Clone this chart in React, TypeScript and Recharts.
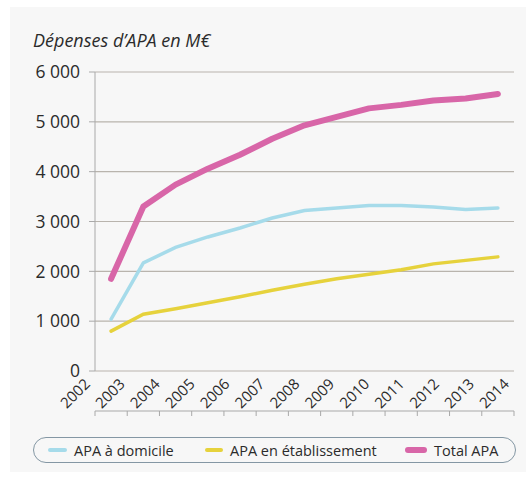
import React from 'react';
import { LineChart, Line, XAxis, YAxis, CartesianGrid } from 'recharts';

const years = ['2002', '2003', '2004', '2005', '2006', '2007', '2008', '2009', '2010', '2011', '2012', '2013', '2014'];
const domicile = [1040, 2170, 2480, 2690, 2870, 3070, 3220, 3270, 3320, 3320, 3290, 3240, 3270];
const etablissement = [800, 1140, 1250, 1370, 1490, 1620, 1740, 1850, 1940, 2030, 2150, 2220, 2290];
const total = [1850, 3300, 3740, 4060, 4340, 4660, 4930, 5100, 5270, 5340, 5430, 5470, 5560];
const yTicks = [0, 1000, 2000, 3000, 4000, 5000, 6000];
const bandTicks = [0, 1, 2, 3, 4, 5, 6, 7, 8, 9, 10, 11, 12, 13];
const labelTicks = [0, 1, 2, 3, 4, 5, 6, 7, 8, 9, 10, 11, 12];

const FONT = '"Open Sans", "Noto Sans", sans-serif';
const TEXT = '#2b2b2b';

// points sit in the middle of each yearly band
const data = years.map((year, i) => ({
  pos: i + 0.5,
  year,
  domicile: domicile[i],
  etablissement: etablissement[i],
  total: total[i],
}));

const fmt = (v: number) => String(v).replace(/\B(?=(\d{3})+(?!\d))/g, ' ');

function YearTick(props: any) {
  const { x, y, payload } = props;
  const ax = x - 4;
  const ay = y + 14;
  return (
    <text
      x={ax}
      y={ay}
      transform={`rotate(-45, ${ax}, ${ay})`}
      textAnchor="end"
      fontSize={15}
      fontFamily={FONT}
      fill={TEXT}
    >
      {years[payload.value]}
    </text>
  );
}

const legendItems = [
  { label: 'APA à domicile', color: '#a6dbea', left: 47, w: 19, h: 4 },
  { label: 'APA en établissement', color: '#e6d23c', left: 204, w: 18, h: 4 },
  { label: 'Total APA', color: '#d866a8', left: 404, w: 22, h: 6 },
];

export default function App() {
  return (
    <div style={{ position: 'fixed', left: 0, top: 0, width: 528, height: 477, background: '#fff', overflow: 'hidden' }}>
      <div style={{ position: 'absolute', left: 10, top: 7, width: 516, height: 465, background: '#f7f7f7' }} />
      <div
        style={{
          position: 'absolute',
          left: 33,
          top: 28,
          fontFamily: FONT,
          fontStyle: 'italic',
          fontSize: 18,
          color: TEXT,
          whiteSpace: 'nowrap',
        }}
      >
        Dépenses d’APA en M€
      </div>
      <div style={{ position: 'absolute', left: 0, top: 0 }}>
        <LineChart width={528} height={477} data={data} margin={{ top: 72, right: 14, bottom: 60, left: 0 }}>
          <CartesianGrid horizontal vertical={false} stroke="#b9b4ad" strokeWidth={1.2} />
          <XAxis
            xAxisId="pos"
            dataKey="pos"
            type="number"
            domain={[0, 13]}
            ticks={bandTicks}
            interval={0}
            height={6}
            tickSize={5}
            tickFormatter={() => ''}
            stroke="#a9a9a9"
          />
          <XAxis
            xAxisId="lab"
            type="number"
            domain={[0, 12]}
            allowDataOverflow
            ticks={labelTicks}
            interval={0}
            height={40}
            axisLine={false}
            tickLine={false}
            tickSize={0}
            tickMargin={0}
            tick={<YearTick />}
          />
          <YAxis
            type="number"
            domain={[0, 6000]}
            ticks={yTicks}
            interval={0}
            width={95}
            tickSize={6}
            tickMargin={9}
            tickFormatter={fmt}
            stroke="#a9a9a9"
            tick={{ fontSize: 17.5, fontFamily: FONT, fill: TEXT }}
          />
          <Line xAxisId="pos" type="linear" dataKey="domicile" stroke="#a6dbea" strokeWidth={3.5} dot={false} isAnimationActive={false} strokeLinecap="round" />
          <Line xAxisId="pos" type="linear" dataKey="etablissement" stroke="#e6d23c" strokeWidth={3.5} dot={false} isAnimationActive={false} strokeLinecap="round" />
          <Line xAxisId="pos" type="linear" dataKey="total" stroke="#d866a8" strokeWidth={6} dot={false} isAnimationActive={false} strokeLinecap="round" strokeLinejoin="round" />
        </LineChart>
      </div>
      <div
        style={{
          position: 'absolute',
          left: 33,
          top: 437,
          width: 483,
          height: 26,
          border: '1.2px solid #8497a4',
          borderRadius: 13,
          boxSizing: 'border-box',
        }}
      >
        {legendItems.map((it) => (
          <div
            key={it.label}
            style={{
              position: 'absolute',
              left: it.left - 33,
              top: 0,
              height: 24,
              display: 'flex',
              alignItems: 'center',
              fontFamily: FONT,
              fontSize: 14.5,
              color: TEXT,
              whiteSpace: 'nowrap',
            }}
          >
            <span style={{ display: 'inline-block', width: it.w, height: it.h, background: it.color, borderRadius: it.h / 2, marginRight: 7 }} />
            {it.label}
          </div>
        ))}
      </div>
    </div>
  );
}
